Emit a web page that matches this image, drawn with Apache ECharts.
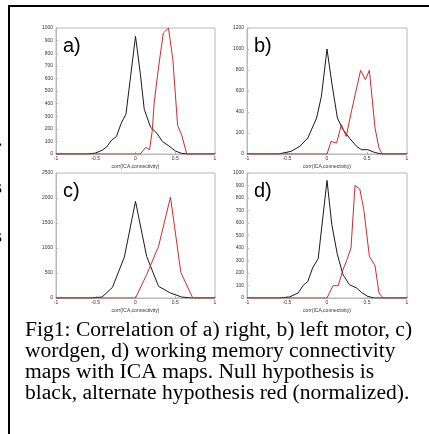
<!DOCTYPE html>
<html lang="en">
<head>
    <meta charset="UTF-8">
    <title>Fig1 correlation histograms</title>
    <script src="https://cdn.jsdelivr.net/npm/echarts@6.0.0/dist/echarts.min.js"></script>
    <style>
        html, body { margin: 0; padding: 0; background: #fff; }
    </style>
</head>
<body>
    <div id="main" style="width: 429px;height:434px;"></div>

    <script>
        // panel a) right motor
        var aNullX = [-1, -0.6, -0.5, -0.42, -0.36, -0.3, -0.24, -0.18, -0.12, -0.06, 0, 0.06, 0.11, 0.19, 0.27, 0.34, 0.42, 0.5, 0.58, 0.65, 1];
        var aNullY = [0, 0, 8, 30, 58, 111, 138, 244, 316, 625, 934, 640, 355, 212, 164, 98, 64, 24, 5, 0, 0];
        var aAltX = [-1, 0.06, 0.13, 0.176, 0.21, 0.235, 0.29, 0.35, 0.415, 0.47, 0.53, 0.58, 0.645, 1];
        var aAltY = [0, 0, 53, 34, 180, 405, 690, 960, 1000, 749, 225, 153, 0, 0];

        // panel b) left motor
        var bNullX = [-1, -0.61, -0.45, -0.34, -0.24, -0.13, -0.07, 0, 0.06, 0.13, 0.2, 0.28, 0.37, 0.43, 0.51, 0.59, 0.68, 1];
        var bNullY = [0, 0, 25, 73, 152, 343, 549, 1000, 676, 343, 232, 152, 73, 41, 41, 16, 0, 0];
        var bAltX = [-1, 0, 0.05, 0.12, 0.18, 0.24, 0.31, 0.42, 0.48, 0.53, 0.6, 0.65, 0.69, 1];
        var bAltY = [0, 0, 120, 105, 279, 168, 422, 797, 708, 797, 248, 57, 0, 0];

        // panel c) wordgen
        var cNullX = [-1, -0.57, -0.42, -0.29, -0.14, 0, 0.14, 0.29, 0.44, 0.58, 0.71, 1];
        var cNullY = [0, 0, 20, 213, 820, 1933, 833, 233, 100, 20, 0, 0];
        var cAltX = [-1, 0, 0.14, 0.29, 0.44, 0.57, 0.72, 1];
        var cAltY = [0, 0, 467, 1033, 2020, 513, 0, 0];

        // panel d) working memory
        var dNullX = [-1, -0.61, -0.47, -0.36, -0.3, -0.24, -0.18, -0.11, 0, 0.06, 0.13, 0.2, 0.28, 0.37, 0.43, 0.51, 0.59, 1];
        var dNullY = [0, 0, 8, 40, 99, 133, 240, 315, 941, 587, 347, 187, 107, 80, 45, 13, 0, 0];
        var dAltX = [-1, 0, 0.075, 0.14, 0.2, 0.25, 0.3, 0.35, 0.41, 0.46, 0.53, 0.6, 0.65, 0.7, 1];
        var dAltY = [0, 0, 99, 99, 227, 307, 400, 901, 872, 707, 333, 259, 40, 0, 0];

        var panelNames = ['a)', 'b)', 'c)', 'd)'];
        var yMax = [1000, 1200, 2500, 1000];
        var yStep = [100, 200, 500, 100];
        var xTicks = [-1, -0.5, 0, 0.5, 1];
        var xName = 'corr(ICA,connectivity)';
        var caption = [
            'Fig1: Correlation of a) right, b) left motor, c)',
            'wordgen, d) working memory connectivity',
            'maps with ICA maps. Null hypothesis is',
            'black, alternate hypothesis red (normalized).'
        ];

        var nullSets = [[aNullX, aNullY], [bNullX, bNullY], [cNullX, cNullY], [dNullX, dNullY]];
        var altSets = [[aAltX, aAltY], [bAltX, bAltY], [cAltX, cAltY], [dAltX, dAltY]];

        function pairs(xs, ys) {
            return xs.map(function(x, i) { return [x, ys[i]]; });
        }

        var boxes = [
            { left: 56, top: 28, width: 159, height: 126 },
            { left: 247, top: 28, width: 160, height: 126 },
            { left: 56, top: 173, width: 159, height: 125 },
            { left: 247, top: 173, width: 160, height: 125 }
        ];

        var tickFont = { fontSize: 5, color: '#333', fontFamily: 'Liberation Sans' };
        var frame = '#b8b8b8';

        var grids = [], xAxes = [], yAxes = [], series = [], graphics = [];
        boxes.forEach(function(b, i) {
            grids.push({ left: b.left, top: b.top, width: b.width, height: b.height,
                show: true, borderColor: frame, borderWidth: 1, backgroundColor: '#fff' });
            xAxes.push({
                type: 'value', gridIndex: i, min: -1, max: 1, interval: 0.5,
                name: xName, nameLocation: 'middle', nameGap: 10,
                nameTextStyle: tickFont,
                axisLine: { onZero: false, lineStyle: { color: frame } },
                axisTick: { inside: true, length: 2, lineStyle: { color: frame } },
                axisLabel: Object.assign({ margin: 2, showMinLabel: true, showMaxLabel: true,
                    formatter: function(v) { return xTicks.indexOf(v) >= 0 ? String(v) : ''; } }, tickFont),
                splitLine: { show: false }
            });
            yAxes.push({
                type: 'value', gridIndex: i, min: 0, max: yMax[i], interval: yStep[i],
                axisLine: { onZero: false, lineStyle: { color: frame } },
                axisTick: { inside: true, length: 2, lineStyle: { color: frame } },
                axisLabel: Object.assign({ margin: 3, formatter: function(v) { return String(v); } }, tickFont),
                splitLine: { show: false }
            });
            series.push({
                type: 'line', xAxisIndex: i, yAxisIndex: i, symbol: 'none', silent: true,
                lineStyle: { color: '#1a1a1a', width: 1 },
                data: pairs(nullSets[i][0], nullSets[i][1])
            });
            series.push({
                type: 'line', xAxisIndex: i, yAxisIndex: i, symbol: 'none', silent: true,
                lineStyle: { color: '#d42a2a', width: 1 },
                data: pairs(altSets[i][0], altSets[i][1])
            });
            graphics.push({
                type: 'text', left: b.left + 7, top: b.top + 8,
                style: { text: panelNames[i], font: '20px "Liberation Sans"', fill: '#000' }
            });
        });

        // figure border lines
        graphics.push({ type: 'rect', shape: { x: 8, y: 5, width: 421, height: 2 }, style: { fill: '#000' } });
        graphics.push({ type: 'rect', shape: { x: 8, y: 5, width: 2, height: 429 }, style: { fill: '#000' } });

        // cut-off text from the neighbouring column
        graphics.push({ type: 'text', x: -2, y: 142, style: { text: '.', font: 'bold 16px "Liberation Serif"', fill: '#000', verticalAlign: 'middle' } });
        graphics.push({ type: 'text', x: -5, y: 188, style: { text: 's', font: '18px "Liberation Serif"', fill: '#000', verticalAlign: 'middle' } });
        graphics.push({ type: 'text', x: -5, y: 237, style: { text: 's', font: '18px "Liberation Serif"', fill: '#000', verticalAlign: 'middle' } });

        caption.forEach(function(line, k) {
            graphics.push({
                type: 'text', x: 25, y: 321 + k * 21, scaleX: 1.078,
                style: { text: line, font: '20px "Liberation Serif"', fill: '#000', verticalAlign: 'top' }
            });
        });

        var myChart = echarts.init(document.getElementById('main'));
        myChart.setOption({
            animation: false,
            grid: grids,
            xAxis: xAxes,
            yAxis: yAxes,
            series: series,
            graphic: graphics
        });
    </script>
</body>
</html>
